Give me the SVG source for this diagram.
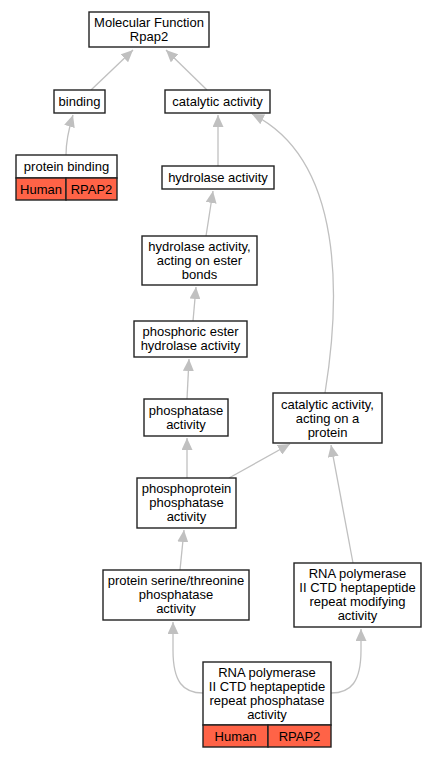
<svg xmlns="http://www.w3.org/2000/svg" width="436" height="757" viewBox="0 0 436 757">
<style>
text{font-family:"Liberation Sans",Arial,sans-serif;font-size:13px;fill:#000;text-anchor:middle}
.n{fill:#fff;stroke:#222;stroke-width:1.4}
.h{fill:#ff6347;stroke:#222;stroke-width:1.4}
.e{fill:none;stroke:#c0c0c0;stroke-width:1.3}
</style>
<defs>
<marker id="a" markerUnits="userSpaceOnUse" markerWidth="13" markerHeight="11" refX="12" refY="5.5" orient="auto">
<path d="M0,0 L12,5.5 L0,11 Z" fill="#c0c0c0"/>
</marker>
</defs>
<g id="edges">
<path class="e" d="M91,90 L133,50" marker-end="url(#a)"/>
<path class="e" d="M207,90 L166,50" marker-end="url(#a)"/>
<path class="e" d="M66,155 C66,140 69,128 73,115" marker-end="url(#a)"/>
<path class="e" d="M218,166 L218,115" marker-end="url(#a)"/>
<path class="e" d="M325,393 C340,300 345,160 252,114" marker-end="url(#a)"/>
<path class="e" d="M206,236 L213,191" marker-end="url(#a)"/>
<path class="e" d="M193,321 L196,287" marker-end="url(#a)"/>
<path class="e" d="M187,399 L189,359" marker-end="url(#a)"/>
<path class="e" d="M187,478 L187,438" marker-end="url(#a)"/>
<path class="e" d="M229,478 L290,444" marker-end="url(#a)"/>
<path class="e" d="M180,570 L184,530" marker-end="url(#a)"/>
<path class="e" d="M353,563 L331,445" marker-end="url(#a)"/>
<path class="e" d="M203,693 C183,693 173,682 173,650 L173,622" marker-end="url(#a)"/>
<path class="e" d="M331,693 C351,693 361,682 361,650 L361,629" marker-end="url(#a)"/>
</g>
<g id="mf">
<rect class="n" x="89" y="12" width="120" height="35"/>
<text x="149" y="26.5">Molecular Function</text>
<text x="149" y="40.5">Rpap2</text>
</g>
<g id="binding">
<rect class="n" x="54" y="90" width="51" height="23"/>
<text x="79.5" y="106">binding</text>
</g>
<g id="catalytic">
<rect class="n" x="165" y="90" width="105" height="23"/>
<text x="217.5" y="106">catalytic activity</text>
</g>
<g id="protein-binding">
<rect class="n" x="16" y="155" width="101" height="23"/>
<text x="66.5" y="171">protein binding</text>
<rect class="h" x="16" y="178" width="50" height="22"/>
<rect class="h" x="66" y="178" width="51" height="22"/>
<text x="41" y="193.5">Human</text>
<text x="91.5" y="193.5">RPAP2</text>
</g>
<g id="hydrolase">
<rect class="n" x="162" y="166" width="112" height="23"/>
<text x="218" y="182">hydrolase activity</text>
</g>
<g id="hydrolase-ester">
<rect class="n" x="142" y="236" width="115" height="49"/>
<text x="199.5" y="251">hydrolase activity,</text>
<text x="199.5" y="265">acting on ester</text>
<text x="199.5" y="279">bonds</text>
</g>
<g id="phosphoric">
<rect class="n" x="134" y="321" width="113" height="36"/>
<text x="190.5" y="336">phosphoric ester</text>
<text x="190.5" y="350">hydrolase activity</text>
</g>
<g id="phosphatase">
<rect class="n" x="144" y="399" width="84" height="37"/>
<text x="186" y="414.5">phosphatase</text>
<text x="186" y="428.5">activity</text>
</g>
<g id="catalytic-protein">
<rect class="n" x="273" y="393" width="109" height="50"/>
<text x="327.5" y="408.5">catalytic activity,</text>
<text x="327.5" y="422.5">acting on a</text>
<text x="327.5" y="436.5">protein</text>
</g>
<g id="phosphoprotein">
<rect class="n" x="137" y="478" width="99" height="50"/>
<text x="186.5" y="493">phosphoprotein</text>
<text x="186.5" y="507">phosphatase</text>
<text x="186.5" y="521">activity</text>
</g>
<g id="serine">
<rect class="n" x="103" y="570" width="146" height="50"/>
<text x="176" y="585">protein serine/threonine</text>
<text x="176" y="599">phosphatase</text>
<text x="176" y="613">activity</text>
</g>
<g id="modifying">
<rect class="n" x="294" y="563" width="127" height="64"/>
<text x="357.5" y="578">RNA polymerase</text>
<text x="357.5" y="592">II CTD heptapeptide</text>
<text x="357.5" y="606">repeat modifying</text>
<text x="357.5" y="620">activity</text>
</g>
<g id="rna-phosphatase">
<rect class="n" x="203" y="662" width="128" height="63"/>
<text x="267" y="676.5">RNA polymerase</text>
<text x="267" y="690.5">II CTD heptapeptide</text>
<text x="267" y="704.5">repeat phosphatase</text>
<text x="267" y="718.5">activity</text>
<rect class="h" x="203" y="725" width="65" height="22"/>
<rect class="h" x="268" y="725" width="63" height="22"/>
<text x="235.5" y="740.5">Human</text>
<text x="299.5" y="740.5">RPAP2</text>
</g>
</svg>
